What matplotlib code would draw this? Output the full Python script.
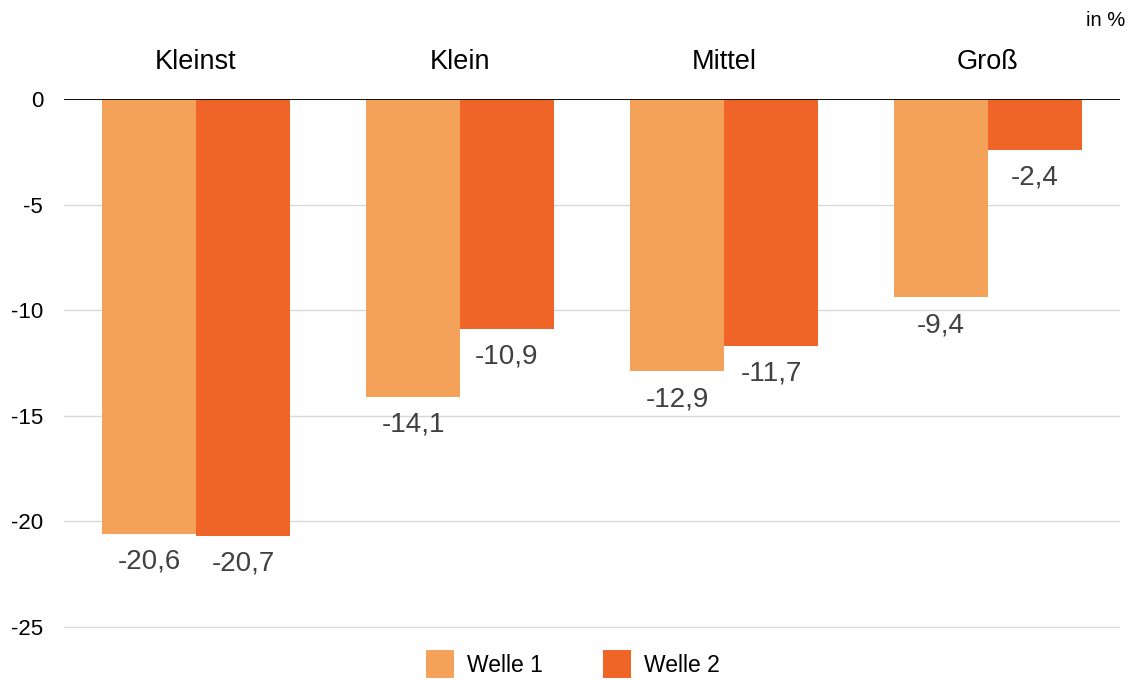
import numpy as np
import matplotlib
matplotlib.use("Agg")
import matplotlib.pyplot as plt

plt.rcParams['font.family'] = ['Liberation Sans', 'DejaVu Sans']
plt.rcParams['axes.unicode_minus'] = False

# data
categories = ['Kleinst', 'Klein', 'Mittel', 'Groß']
welle1 = [-20.6, -14.1, -12.9, -9.4]
welle2 = [-20.7, -10.9, -11.7, -2.4]
series_names = ['Welle 1', 'Welle 2']
yticks = [0, -5, -10, -15, -20, -25]

col1 = '#F4A259'
col2 = '#EF6427'

fig = plt.figure(figsize=(11.32, 6.8), dpi=100)
ax = fig.add_axes([64 / 1132, 52 / 680, 1056 / 1132, 529 / 680])

x = np.arange(len(categories))
w = 0.356
b1 = ax.bar(x - w / 2, welle1, w, color=col1, label=series_names[0], zorder=2)
b2 = ax.bar(x + w / 2, welle2, w, color=col2, label=series_names[1], zorder=2)

# value labels below the bars
for bars, vals in [(b1, welle1), (b2, welle2)]:
    for rect, v in zip(bars, vals):
        ax.annotate(f'{v:.1f}'.replace('.', ','),
                    (rect.get_x() + rect.get_width() / 2, v),
                    xytext=(0, -20), textcoords='offset points',
                    ha='center', va='center', fontsize=20, color='#404040')

ax.set_xlim(-0.5, len(categories) - 0.5)
ax.set_ylim(-25.06, 0)
ax.set_yticks(yticks)
ax.set_yticklabels([str(t) for t in yticks])
ax.tick_params(axis='y', length=0, pad=15, labelsize=16)
ax.set_xticks([])
for s in ax.spines.values():
    s.set_visible(False)
ax.grid(axis='y', color='#D9D9D9', linewidth=1, zorder=0)
ax.axhline(0, color='black', linewidth=1.3, zorder=3)

# category headers above the plot
for xi, c in zip(x, categories):
    ax.text(xi, 1.07, c, transform=ax.get_xaxis_transform(),
            ha='center', va='center', fontsize=19.5, color='black')

fig.text(1125 / 1132, 1 - 20 / 680, 'in %', ha='right', va='center', fontsize=14.5)

fig.legend(loc='center', bbox_to_anchor=(573 / 1132, 1 - 664 / 680), ncol=2,
           frameon=False, fontsize=16.5, handlelength=1.22, handleheight=1.55,
           columnspacing=2.6, handletextpad=0.57)

fig.savefig('out.png', dpi=100)
